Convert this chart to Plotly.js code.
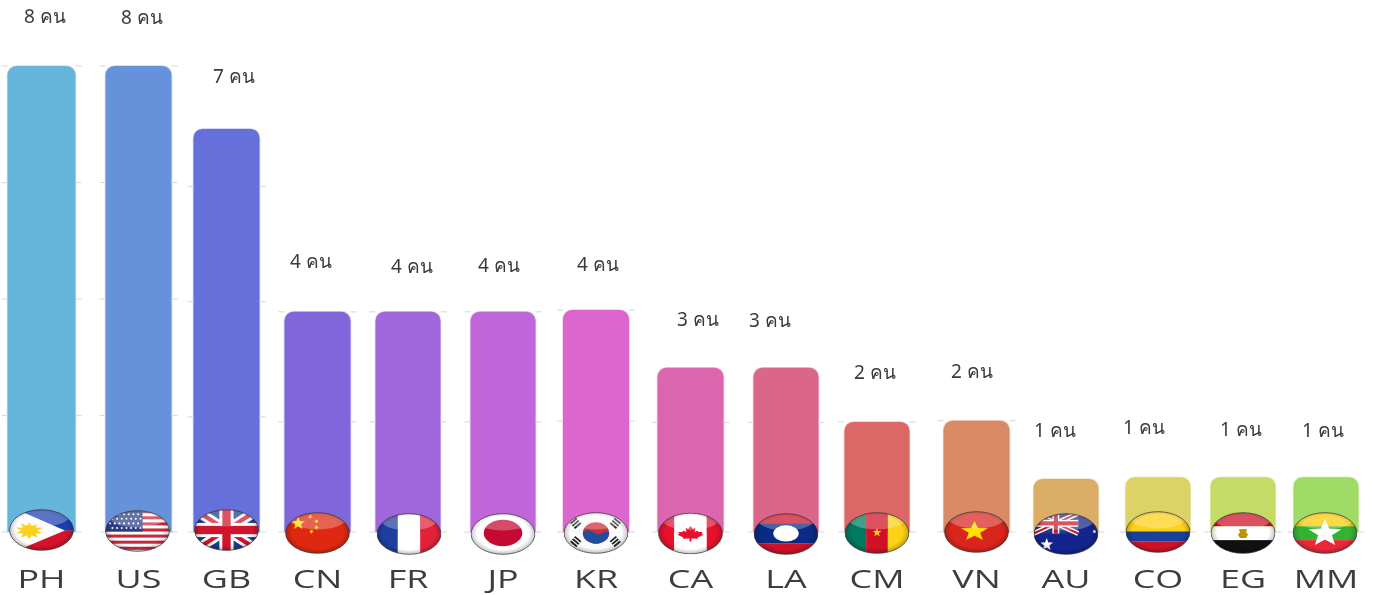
<!DOCTYPE html>
<html>
<head>
<meta charset="utf-8">
<script src="https://cdn.plot.ly/plotly-3.0.1.min.js"></script>
<style>
html,body{margin:0;padding:0;background:#fff;overflow:hidden}
#chart{width:1374px;height:595px;filter:blur(0.35px)}
</style>
</head>
<body>
<div id="chart"></div>
<script>
// ---------- data ----------
const categories = ['PH','US','GB','CN','FR','JP','KR','CA','LA','CM','VN','AU','CO','EG','MM'];
const counts     = [8,8,7,4,4,4,4,3,3,2,2,1,1,1,1];
const unitLabel  = 'คน';
// drawn bar heights on the chart's own scale (the picture does not keep them exactly proportional)
const barHeights = [8,8,6.92,3.78,3.78,3.78,3.81,2.82,2.82,1.89,1.91,0.91,0.94,0.94,0.94];
const barColors  = ['#66B5DB','#6692DB','#6670DB','#7F66DB','#A066DB','#C066DB','#DB66CD','#DB66AD','#DB668A','#DB6866','#DB8A66','#DBAD66','#DDD266','#C4DB66','#A0DB66'];

// ---------- layout nudges (px) ----------
const pxPerCat = 92, pxPerUnit = 58.25, firstCentre = 41.5, W = 1374, plotBottom = 561, baseline = 532;
const barNudge   = [0,5,1,0,-1.5,1.5,2.5,5,8.5,7.5,15,12.5,12.5,5.5,-3.5];
const barWidthPx = [68,66,66,66,65,65,66,66,65,65,66,65,65,65,65];
const labelDx    = [3,3,7,-6.5,4,-4,2,7,-16,-2,-4.5,-11,-14,-2,-3];
const labelDy    = [50,49,53,51,46,47,46,49,48,50,50,49,50,48,47];
const flagNudgeX = [0,-1,0,0,1,0,0,0,0,0,0,0,0,0,-1];
const flagCy     = [530,531,530,533,534,534,533,533.5,534,533,532,534,532,533,533];
const tickStretch = 1.38;

const centres = categories.map((_, i) => i + barNudge[i] / pxPerCat);
const widths  = barWidthPx.map(w => w / pxPerCat);

// short grid stubs beside each bar, every 2 people on that bar's own scale
const gridX = [], gridY = [];
categories.forEach((_, i) => {
  for (let lv = 0; lv <= counts[i]; lv += 2) {
    const y = lv * barHeights[i] / counts[i];
    const half = widths[i] / 2, ext = 6 / pxPerCat;
    gridX.push(centres[i] - half - ext, centres[i] - half, null, centres[i] + half, centres[i] + half + ext, null);
    gridY.push(y, y, null, y, y, null);
  }
});

// ---------- flags ----------
function star(cx, cy, r, fill, rot, sy) {
  let p = [];
  const k2 = sy || 1;
  for (let k = 0; k < 10; k++) {
    const a = -Math.PI / 2 + (rot || 0) + k * Math.PI / 5, rr = k % 2 ? r * 0.42 : r;
    p.push((cx + rr * Math.cos(a)).toFixed(2) + ',' + (cy + k2 * rr * Math.sin(a)).toFixed(2));
  }
  return `<polygon points="${p.join(' ')}" fill="${fill}"/>`;
}
const R = (x, y, w, h, f) => `<rect x="${x}" y="${y}" width="${w}" height="${h}" fill="${f}"/>`;
function jack(w, h) {
  const L = (x1, y1, x2, y2, s, c) => `<line x1="${x1}" y1="${y1}" x2="${x2}" y2="${y2}" stroke="${s}" stroke-width="${c}"/>`;
  const u = h / 10;
  return R(0, 0, w, h, '#1f3a8a') +
    L(0, 0, w, h, '#fff', 2.4 * u) + L(w, 0, 0, h, '#fff', 2.4 * u) +
    L(0, 0, w, h, '#cf142b', 1 * u) + L(w, 0, 0, h, '#cf142b', 1 * u) +
    R(w / 2 - 1.7 * u, 0, 3.4 * u, h, '#fff') + R(0, h / 2 - 1.7 * u, w, 3.4 * u, '#fff') +
    R(w / 2 - 1 * u, 0, 2 * u, h, '#cf142b') + R(0, h / 2 - 1 * u, w, 2 * u, '#cf142b');
}
const flagArt = {
  PH: () => R(0, 0, 64, 21, '#1c3fb0') + R(0, 21, 64, 20, '#d6122a') +
    '<polygon points="0,-3 55,21 0,44" fill="#fdfdfd"/>' +
    star(20, 21, 14, '#f8d21f', 0, .62) + star(20, 21, 14, '#f8d21f', 0.63, .62) +
    '<ellipse cx="20" cy="21" rx="5.5" ry="4.5" fill="#f8d21f"/>',
  US: () => {
    let s = R(0, 0, 64, 41, '#fff');
    for (let i = 0; i < 7; i++) s += R(0, i * 6, 64, 3, '#c8283c');
    s += R(0, 0, 37, 21, '#2c3f85');
    for (let r = 0; r < 4; r++) for (let c = 0; c < 7; c++)
      s += `<circle cx="${5 + c * 4.6 + (r % 2) * 2.3}" cy="${4 + r * 4.5}" r="1" fill="#fff"/>`;
    return s;
  },
  GB: () => jack(64, 41),
  CN: () => R(0, 0, 64, 41, '#de2910') + star(13, 11, 7, '#ffde00') + star(25, 4.5, 2.4, '#ffde00', .5) +
    star(31, 9, 2.4, '#ffde00', .9) + star(31, 15, 2.4, '#ffde00', .2) + star(26, 19, 2.4, '#ffde00', .6),
  FR: () => R(0, 0, 21, 41, '#1d3fa0') + R(21, 0, 22, 41, '#fff') + R(43, 0, 21, 41, '#e3223a'),
  JP: () => R(0, 0, 64, 41, '#fff') + '<ellipse cx="32" cy="19.5" rx="19" ry="13" fill="#c40a33"/>',
  KR: () => R(0, 0, 64, 41, '#fbfbfb') + '<ellipse cx="32" cy="20.5" rx="13" ry="10.5" fill="#cd2e3a"/>' +
    '<path d="M19 20.5 A13 10.5 0 0 0 45 20.5 C41 16 37 24 32 21 C27 18 23 16 19 20.5Z" fill="#1f4e9c"/>' +
    ['12,11,-40', '51,11,40', '12,29,40', '51,29,-40'].map(t => {
      const [x, y, a] = t.split(',');
      return `<g transform="translate(${x} ${y}) rotate(${a})">${R(-4, -4, 8, 1.8, '#222')}${R(-4, -1, 8, 1.8, '#222')}${R(-4, 2, 8, 1.8, '#222')}</g>`;
    }).join(''),
  CA: () => R(0, 0, 16, 41, '#e8112d') + R(16, 0, 32, 41, '#fff') + R(48, 0, 16, 41, '#e8112d') +
    '<g transform="translate(0 6.5) scale(1 .66)"><path d="M32 10 L34 14 L37 13 L36 19 L39 17 L40 19 L44 19 L43 22 L45 23 L39 27 L39.5 29 L33 28.5 L33 33 L31 33 L31 28.5 L24.5 29 L25 27 L19 23 L21 22 L20 19 L24 19 L25 17 L28 19 L27 13 L30 14Z" fill="#e8112d"/></g>',
  LA: () => R(0, 0, 64, 10, '#ce1126') + R(0, 10, 64, 20, '#0a2a83') + R(0, 30, 64, 11, '#ce1126') +
    '<ellipse cx="32" cy="20" rx="12.5" ry="8" fill="#fff"/>',
  CM: () => R(0, 0, 21.3, 41, '#007a5e') + R(21.3, 0, 21.4, 41, '#ce1126') + R(42.7, 0, 21.3, 41, '#fcd116') + star(32, 20, 4.5, '#fcd116'),
  VN: () => R(0, 0, 64, 41, '#da251d') + star(30, 20, 14, '#ffe000', 0, .72),
  AU: () => R(0, 0, 64, 41, '#13248c') + jack(44, 20) + star(13, 31, 6.5, '#fff') + star(60, 18, 2.2, '#fff'),
  CO: () => R(0, 0, 64, 20, '#fcd116') + R(0, 20, 64, 10, '#1a3f9c') + R(0, 30, 64, 11, '#ce1126'),
  EG: () => R(0, 0, 64, 14, '#ce1126') + R(0, 14, 64, 13.5, '#fff') + R(0, 27.5, 64, 13.5, '#111') +
    '<path d="M28 16.5 L36 16.5 L35 20 L37 22 L35 25.5 L29 25.5 L27 22 L29 20Z" fill="#c09300"/>',
  MM: () => R(0, 0, 64, 14, '#fecb00') + R(0, 14, 64, 13.5, '#34b233') + R(0, 27.5, 64, 13.5, '#ea2839') + star(32, 21, 17, '#fff', 0, .82)
};
function flagSource(code) {
  const svg = `<svg xmlns="http://www.w3.org/2000/svg" width="130" height="84" viewBox="0 0 64 41">
<defs><clipPath id="c"><ellipse cx="32" cy="20.5" rx="31.4" ry="20"/></clipPath>
<radialGradient id="s" cx="50%" cy="48%" r="55%"><stop offset="72%" stop-color="#000" stop-opacity="0"/><stop offset="100%" stop-color="#000" stop-opacity=".34"/></radialGradient></defs>
<g clip-path="url(#c)">${flagArt[code]()}
<ellipse cx="32" cy="20.5" rx="32" ry="20.5" fill="url(#s)"/>
<ellipse cx="32" cy="5" rx="29" ry="12" fill="#fff" fill-opacity=".27"/></g>
<ellipse cx="32" cy="20.5" rx="31.4" ry="20" fill="none" stroke="#333" stroke-width=".7"/></svg>`;
  return 'data:image/svg+xml;charset=utf-8,' + encodeURIComponent(svg);
}

// ---------- traces ----------
const bars = {
  type: 'bar', x: centres, y: barHeights, width: widths,
  marker: {
    color: barColors, cornerradius: 9,
    line: {color: barColors.map(c => c + '55'), width: 1.5}
  },
  hoverinfo: 'x+y', showlegend: false
};
const grid = {
  type: 'scatter', mode: 'lines', x: gridX, y: gridY, connectgaps: false,
  line: {color: '#dcdcdc', width: 1.2}, hoverinfo: 'skip', showlegend: false
};

// ---------- layout ----------
const layout = {
  width: W, height: 595,
  margin: {l: 0, r: 0, t: 0, b: 595 - plotBottom, pad: 0},
  paper_bgcolor: '#fff', plot_bgcolor: '#fff',
  showlegend: false,
  xaxis: {
    type: 'linear',
    range: [-firstCentre / pxPerCat, (W - firstCentre) / pxPerCat],
    tickmode: 'array', tickvals: centres, ticktext: categories,
    ticks: '', showgrid: false, zeroline: false, showline: false,
    tickfont: {family: '"Open Sans", sans-serif', size: 26, color: '#3d3d3d'}
  },
  yaxis: {
    range: [-(plotBottom - baseline) / pxPerUnit, baseline / pxPerUnit],
    visible: false, showgrid: false, zeroline: false
  },
  annotations: categories.map((_, i) => ({
    x: centres[i], y: barHeights[i], xref: 'x', yref: 'y',
    xshift: labelDx[i], yshift: labelDy[i],
    text: counts[i] + ' ' + unitLabel, showarrow: false,
    xanchor: 'center', yanchor: 'middle',
    font: {family: '"Noto Sans", "Open Sans", sans-serif', size: 19, color: '#3a3a3a'}
  })),
  images: categories.map((c, i) => ({
    source: flagSource(c), xref: 'x', yref: 'y',
    x: centres[i] + flagNudgeX[i] / pxPerCat, y: (baseline - flagCy[i]) / pxPerUnit,
    sizex: 65 / pxPerCat, sizey: 42 / pxPerUnit,
    xanchor: 'center', yanchor: 'middle', sizing: 'stretch', layer: 'above'
  }))
};
Plotly.newPlot('chart', [bars, grid], layout, {displayModeBar: false, staticPlot: true}).then(() => {
  // the reference's axis labels are horizontally stretched
  document.querySelectorAll('#chart .xtick text').forEach(t => {
    t.setAttribute('lengthAdjust', 'spacingAndGlyphs');
    t.setAttribute('textLength', (t.getComputedTextLength() * tickStretch).toFixed(1));
  });
});
</script>
</body>
</html>
